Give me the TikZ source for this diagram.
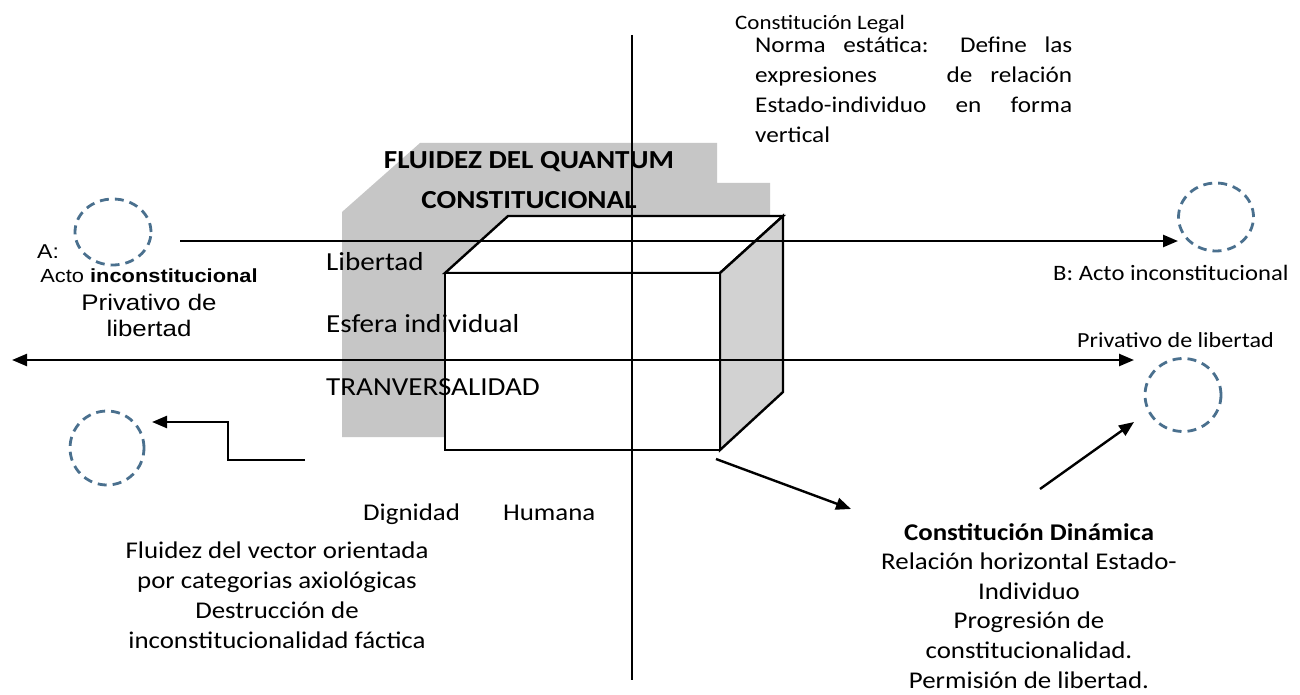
\documentclass[tikz,border=0pt]{standalone}
\usepackage{fontspec}
\setmainfont{Carlito}
\newfontfamily\cwide[FakeStretch=1.12]{Carlito}
\newfontfamily\awide[FakeStretch=1.15]{Liberation Sans}
\usetikzlibrary{arrows.meta,shapes.geometric}
\definecolor{circblue}{RGB}{74,112,142}
\definecolor{greyfill}{RGB}{198,198,198}
\definecolor{facegrey}{RGB}{210,210,210}
\newcommand\ctab[1]{\begin{tabular}[t]{@{}c@{}}#1\end{tabular}}
\newcommand\ltab[1]{\begin{tabular}[t]{@{}l@{}}#1\end{tabular}}
\begin{document}
\begin{tikzpicture}[x=1pt,y=-1pt,
  ln/.style={line width=2.4pt,line cap=butt},
  tip/.style={-{Triangle[length=15pt,width=12pt]}},
  dcirc/.style={ellipse,draw=circblue,line width=2.8pt,dash pattern=on 9pt off 6pt,inner sep=0pt},
  lbl/.style={inner sep=0pt,text=black}
]
\useasboundingbox (0,0) rectangle (1300,695);
\fill[white] (0,0) rectangle (1300,695);

% grey backdrop
\fill[greyfill] (342,212) -- (420,143) -- (717,143) -- (717,183) -- (770,183)
  -- (770,300) -- (445,300) -- (445,437) -- (342,437) -- cycle;

% cube
\filldraw[fill=white,ln,line join=miter] (445,273) -- (508,216) -- (783,216) -- (720,273) -- cycle;
\filldraw[fill=facegrey,ln,line join=miter] (720,273) -- (783,216) -- (783,392) -- (720,450) -- cycle;
\filldraw[fill=white,ln] (445,273) rectangle (720,450);

% labels on the grey block
\node[lbl,anchor=base,font=\cwide\bfseries\fontsize{26}{40}\selectfont] (title) at (529,168)
  {\ctab{FLUIDEZ DEL QUANTUM\\CONSTITUCIONAL}};
\node[lbl,anchor=base west,font=\cwide\fontsize{26}{30}\selectfont] (lib) at (326,270) {Libertad};
\node[lbl,anchor=base west,font=\cwide\fontsize{26}{30}\selectfont] (esf) at (326,332) {Esfera individual};
\node[lbl,anchor=base west,font=\cwide\fontsize{26}{30}\selectfont] (tra) at (326,395) {TRANVERSALIDAD};

% circles
\node[dcirc,minimum width=76pt,minimum height=66pt] (cA) at (113,232) {};
\node[dcirc,minimum width=75pt,minimum height=68pt] (cB) at (1216,217) {};
\node[dcirc,minimum width=76pt,minimum height=73pt] (cC) at (1183,395) {};
\node[dcirc,minimum width=74pt,minimum height=74pt] (cD) at (107,448) {};

% connector end points
\coordinate (vt) at (632,35);
\coordinate (vb) at (632,680);
\coordinate (a1) at (180,241);
\coordinate (a2) at (1178,241);
\coordinate (b1) at (12,360);
\coordinate (b2) at (1134,360);
\coordinate (e1) at (305,460);
\coordinate (e2) at (228,460);
\coordinate (e3) at (228,422);
\coordinate (e4) at (152,422);
\coordinate (f1) at (716,459);
\coordinate (f2) at (851,509);
\coordinate (g1) at (1040,489);
\coordinate (g2) at (1134,422);

% axes and arrows
\draw[ln] (vt) -- (vb);
\draw[ln,tip] (a1) -- (a2);
\draw[ln,{Triangle[length=15pt,width=12pt]}-{Triangle[length=15pt,width=12pt]}] (b1) -- (b2);
\draw[ln,tip,line join=miter] (e1) -- (e2) -- (e3) -- (e4);
\draw[ln,tip] (f1) -- (f2);
\draw[ln,tip] (g1) -- (g2);

% top right text
\node[lbl,anchor=base west,font=\cwide\fontsize{20.5}{30}\selectfont] (cl) at (735,30) {Constitución Legal};
\node[lbl,anchor=base west,font=\cwide\fontsize{22.5}{30}\selectfont] (norma) at (755,53)
  {\ltab{\makebox[317pt][s]{Norma estática: Define las}\\
         \makebox[317pt][s]{expresiones \hspace{1.5em} de relación}\\
         \makebox[317pt][s]{Estado-individuo en forma}\\
         vertical}};

% A labels
\node[lbl,anchor=base west,font=\awide\fontsize{20}{28}\selectfont] (Alab) at (37,258) {A:};
\node[lbl,anchor=base,font=\awide\fontsize{22.5}{28}\selectfont] (Atxt) at (149,282)
  {\ctab{{\fontsize{19}{28}\selectfont Acto \textbf{inconstitucional}}\\Privativo de\\[-2pt]libertad}};

% B labels
\node[lbl,anchor=base west,font=\cwide\fontsize{22}{30}\selectfont] (Btxt) at (1053,280) {B: Acto inconstitucional};
\node[lbl,anchor=base west,font=\cwide\fontsize{21.5}{30}\selectfont] (Bpriv) at (1077,347) {Privativo de libertad};

% bottom texts
\node[lbl,anchor=base west,font=\cwide\fontsize{24}{30}\selectfont] (dig) at (363,520) {Dignidad\hspace{1.8em}Humana};
\node[lbl,anchor=base,font=\cwide\fontsize{24}{30}\selectfont] (flu) at (277,558)
  {\ctab{Fluidez del vector orientada\\por categorias axiológicas\\Destrucción de\\inconstitucionalidad fáctica}};
\node[lbl,anchor=base,font=\cwide\fontsize{24}{29.6}\selectfont] (dyn) at (1029,540)
  {\ctab{\textbf{Constitución Dinámica}\\Relación horizontal Estado-\\Individuo\\Progresión de\\constitucionalidad.\\Permisión de libertad.}};
\end{tikzpicture}
\end{document}
